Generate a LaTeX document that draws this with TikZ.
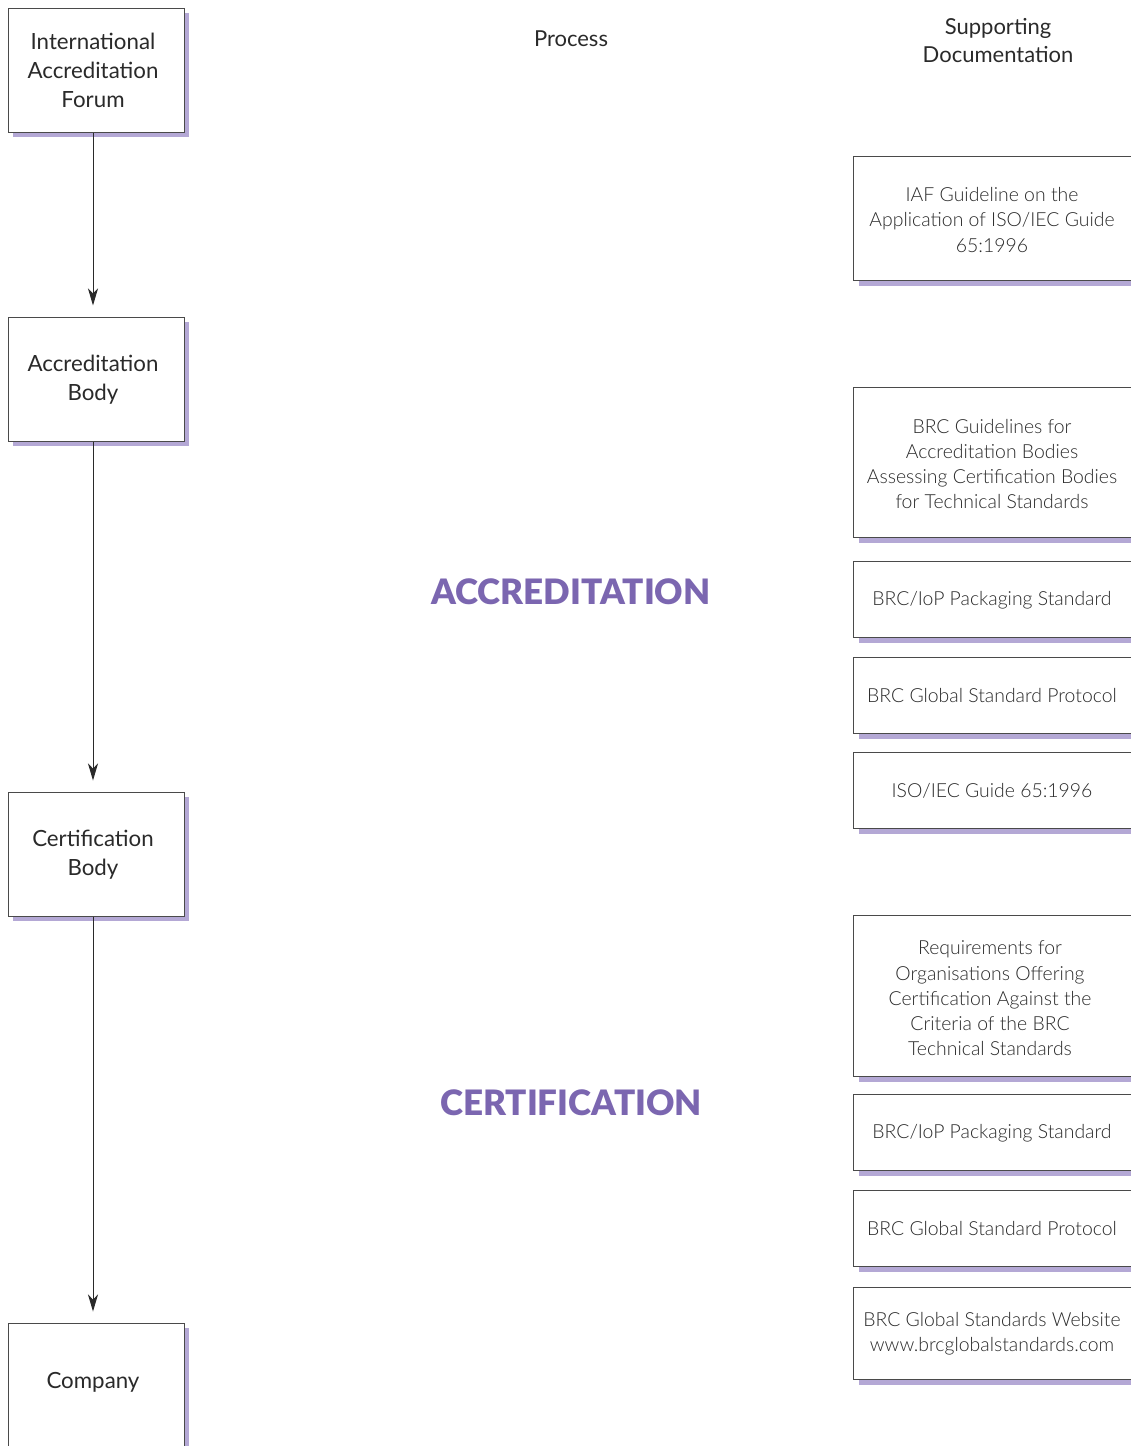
\documentclass[tikz,border=0pt]{standalone}
\usepackage{fontspec}
\setmainfont{Lato}
\newfontfamily\lightfont{Lato Light}
\newfontfamily\blackfont{Lato Black}
\usetikzlibrary{arrows.meta}
\definecolor{ink}{HTML}{2A2A2A}
\definecolor{edge}{HTML}{4A4A4A}
\definecolor{lilac}{HTML}{B4A8D5}
\definecolor{accent}{HTML}{7B66B0}
\begin{document}
\begin{tikzpicture}[x=1pt,y=-1pt,
  shadowed/.style={preaction={fill=lilac, transform canvas={shift={(5pt,-5pt)}}}},
  lbox/.style={draw=edge, line width=1pt, fill=white, minimum width=176pt, minimum height=124pt, inner sep=0pt, shadowed},
  rbox/.style={draw=edge, line width=1pt, fill=white, minimum width=300pt, anchor=north west, inner sep=0pt, shadowed},
  ltxt/.style={text=ink, font=\fontsize{22.3}{29}\selectfont, align=center, inner sep=0pt},
  rtxt/.style={text=ink, font=\lightfont\fontsize{19.4}{25.3}\selectfont, align=center, inner sep=0pt},
  htxt/.style={text=ink, font=\fontsize{22}{28}\selectfont, align=center, inner sep=0pt},
  big/.style={text=accent, font=\blackfont\fontsize{35}{40}\selectfont, inner sep=0pt},
  arr/.style={draw=ink, line width=1pt, -{Stealth[length=17pt,width=10pt,inset=5pt]}, shorten >=11pt}
]
\useasboundingbox (0,0) rectangle (1131,1446);

% left column
\node[lbox] (iaf) at (96,70) {};
\node[ltxt] (iaft) at (93,70) {International\\Accreditation\\Forum};
\node[lbox] (ab) at (96,379) {};
\node[ltxt] (abt) at (93,379.5) {Accreditation\\Body};
\node[lbox] (cb) at (96,854) {};
\node[ltxt] (cbt) at (93,854.5) {Certification\\Body};
\node[lbox] (co) at (96,1385) {};
\node[ltxt] (cot) at (93,1382) {Company};

\draw[arr] ([xshift=-3pt]iaf.south) -- ([xshift=-3pt]ab.north);
\draw[arr] ([xshift=-3pt]ab.south) -- ([xshift=-3pt]cb.north);
\draw[arr] ([xshift=-3pt]cb.south) -- ([xshift=-3pt]co.north);

% headers
\node[htxt] (proc) at (571,39) {Process};
\node[htxt] (supp) at (998,41) {Supporting\\Documentation};

% process labels
\node[big] (acc) at (571,592) {ACCREDITATION};
\node[big] (cert) at (571,1103) {CERTIFICATION};

% right column
\node[rbox, minimum height=124pt] (d1) at (853,156) {};
\node[rtxt] (d1t) at (992,220) {IAF Guideline on the\\Application of ISO/IEC Guide\\65:1996};
\node[rbox, minimum height=150pt] (d2) at (853,387) {};
\node[rtxt] (d2t) at (992,464) {BRC Guidelines for\\Accreditation Bodies\\Assessing Certification Bodies\\for Technical Standards};
\node[rbox, minimum height=76pt] (d3) at (853,561) {};
\node[rtxt] (d3t) at (992,600) {BRC/IoP Packaging Standard};
\node[rbox, minimum height=76pt] (d4) at (853,657) {};
\node[rtxt] (d4t) at (992,696) {BRC Global Standard Protocol};
\node[rbox, minimum height=76pt] (d5) at (853,752) {};
\node[rtxt] (d5t) at (992,791) {ISO/IEC Guide 65:1996};
\node[rbox, minimum height=161pt] (d6) at (853,915) {};
\node[rtxt] (d6t) at (990,998.5) {Requirements for\\Organisations Offering\\Certification Against the\\Criteria of the BRC\\Technical Standards};
\node[rbox, minimum height=76pt] (d7) at (853,1094) {};
\node[rtxt] (d7t) at (992,1133) {BRC/IoP Packaging Standard};
\node[rbox, minimum height=76pt] (d8) at (853,1190) {};
\node[rtxt] (d8t) at (992,1229) {BRC Global Standard Protocol};
\node[rbox, minimum height=92pt] (d9) at (853,1287) {};
\node[rtxt] (d9t) at (992,1334) {BRC Global Standards Website\\www.brcglobalstandards.com};
\end{tikzpicture}
\end{document}
